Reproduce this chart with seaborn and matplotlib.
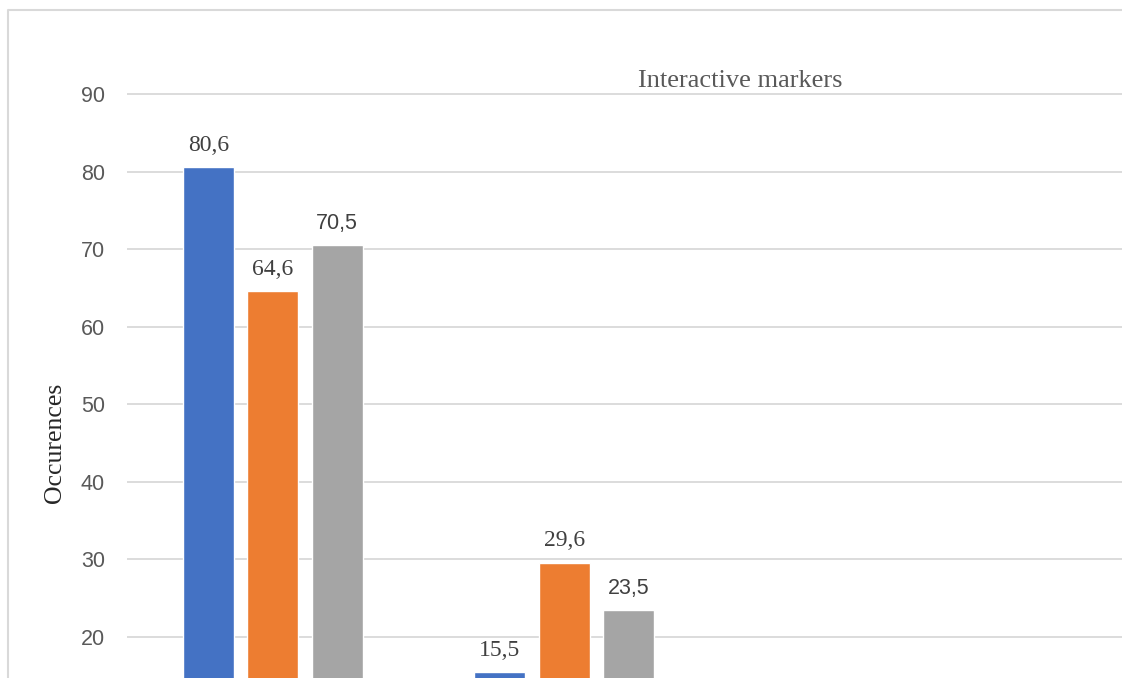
import pandas as pd
import seaborn as sns
import matplotlib.pyplot as plt
from matplotlib.lines import Line2D

# values (only two groups are visible in the crop)
groups = ['Group 1', 'Group 2']
series = ['Series 1', 'Series 2', 'Series 3']
series1 = [80.6, 15.5]
series2 = [64.6, 29.6]
series3 = [70.5, 23.5]
colors = ['#4472C4', '#ED7D31', '#A5A5A5']
yticks = [20, 30, 40, 50, 60, 70, 80, 90]

df = pd.DataFrame({
    'group': groups * 3,
    'series': [s for s in series for _ in groups],
    'value': series1 + series2 + series3,
})

sns.set_style('white')
fig = plt.figure(figsize=(11.22, 6.78), dpi=100)
# axes run a little past the right edge of the figure, as the chart is cropped there
ax = fig.add_axes([127 / 1122, -0.02, (1150 - 127) / 1122, (668 + 13.56) / 678])
ax.patch.set_visible(False)

sns.barplot(data=df, x='group', y='value', hue='series', palette=colors,
            saturation=1, width=0.664, gap=0.21, legend=False, ax=ax)

ax.set_xlim(-0.5, -0.5 + (1150 - 127) / 291.5)
ax.set_ylim(14.715 - 13.56 / 7.757, 100.83)
ax.set_yticks(yticks)
ax.set_yticklabels([str(t) for t in yticks], fontsize=15.5, color='#595959',
                   family='Liberation Sans')
ax.tick_params(axis='y', length=0, pad=16)
ax.set_xticks([])
ax.set_xlabel('')
ax.set_ylabel('Occurences', fontsize=18.5, color='#262626', family='Liberation Serif')
ax.yaxis.set_label_coords(-0.0593, 0.365)
ax.yaxis.grid(True, color='#D9D9D9', linewidth=1.3)
ax.set_axisbelow(True)
for sp in ax.spines.values():
    sp.set_visible(False)

# data labels: the grey series uses a sans font, the others a serif one
for i, cont in enumerate(ax.containers):
    fam = 'Liberation Sans' if i == 2 else 'Liberation Serif'
    size = 15.5 if i == 2 else 17
    labels = [f'{v:.1f}'.replace('.', ',') for v in cont.datavalues]
    ax.bar_label(cont, labels=labels, padding=8, fontsize=size, family=fam,
                 color='#404040')

fig.text(740 / 1122, 1 - 81 / 678, 'Interactive markers', ha='center', va='center',
         fontsize=19, color='#595959', family='Liberation Serif')

# outer chart border (only left and top edges are inside the crop)
fig.lines.append(Line2D([8 / 1122, 8 / 1122], [-0.01, 1 - 10 / 678], transform=fig.transFigure,
                        color='#D9D9D9', linewidth=1.5))
fig.lines.append(Line2D([8 / 1122, 1.05], [1 - 10 / 678, 1 - 10 / 678], transform=fig.transFigure,
                        color='#D9D9D9', linewidth=1.5, solid_capstyle='butt'))

fig.savefig('out.png', dpi=100, facecolor='white', edgecolor='none')
